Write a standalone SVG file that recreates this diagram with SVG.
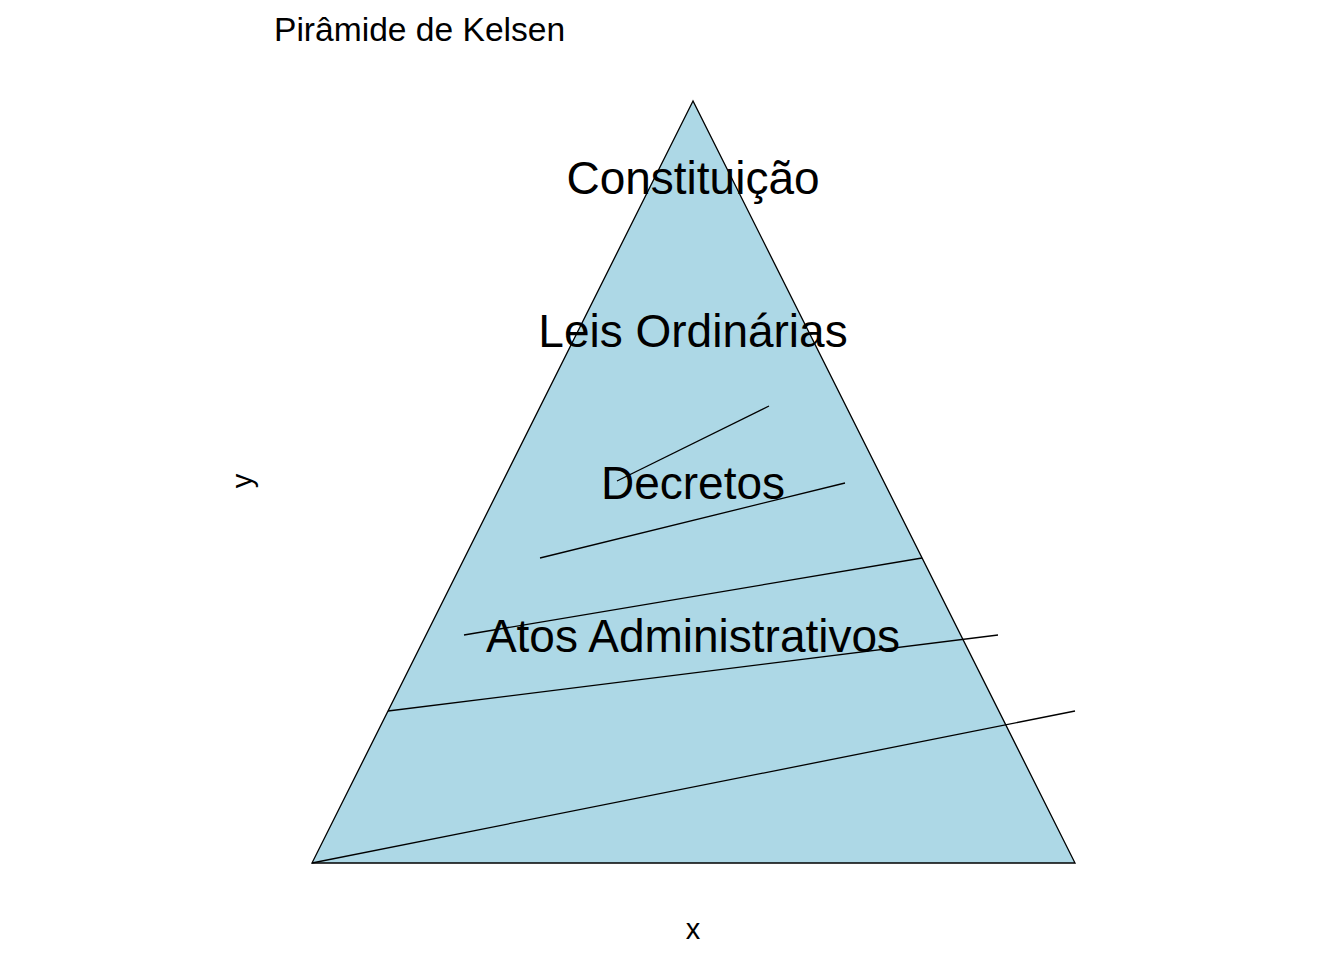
<svg xmlns="http://www.w3.org/2000/svg" width="1344" height="960" viewBox="0 0 1344 960">
<style>
text{font-family:"Liberation Sans",Arial,sans-serif;fill:#000}
.lbl{font-size:46px;text-anchor:middle}
.ax{font-size:29px;text-anchor:middle}
.ln{stroke:#000;stroke-width:1.3;fill:none}
</style>
<rect width="1344" height="960" fill="#fff"/>
<g id="pyramid">
<polygon points="693,101 312,863 1075,863" fill="#add8e6" stroke="#000" stroke-width="1.3"/>
</g>
<g id="lines">
<line class="ln" x1="617" y1="481" x2="769" y2="406"/>
<line class="ln" x1="540" y1="558" x2="845" y2="483"/>
<line class="ln" x1="464" y1="635" x2="922" y2="558"/>
<line class="ln" x1="388" y1="711" x2="998" y2="635"/>
<line class="ln" x1="312" y1="863" x2="1075" y2="711"/>
</g>
<g id="labels">
<text class="lbl" x="693" y="194">Constituição</text>
<text class="lbl" x="693" y="347">Leis Ordinárias</text>
<text class="lbl" x="693" y="499">Decretos</text>
<text class="lbl" x="693" y="652">Atos Administrativos</text>
</g>
<g id="axes">
<text x="274" y="41" style="font-size:33.6px">Pirâmide de Kelsen</text>
<text class="ax" x="693" y="939">x</text>
<text class="ax" transform="translate(252,481) rotate(-90)">y</text>
</g>
</svg>
